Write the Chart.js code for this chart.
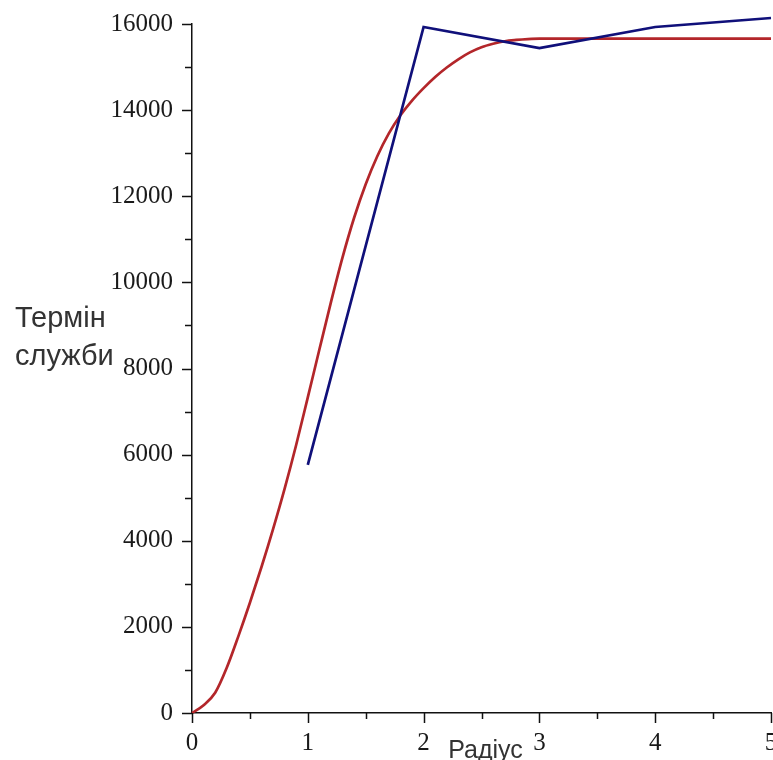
<!DOCTYPE html>
<html>
<head>
<meta charset="utf-8">
<script src="https://cdn.jsdelivr.net/npm/chart.js@4/dist/chart.umd.min.js"></script>
<style>
  html, body { margin: 0; padding: 0; background: #fff; }
  #wrap { width: 773px; height: 760px; position: relative; }
</style>
</head>
<body>
<div id="wrap"><canvas id="c"></canvas></div>
<script>
// Модельна крива (червона)
const modelX = [0, 0.1, 0.2, 0.3, 0.4, 0.5, 0.6, 0.7, 0.8, 0.9, 1.0, 1.1, 1.2, 1.3, 1.4, 1.5, 1.6, 1.7, 1.8, 1.9,
                2.0, 2.1, 2.2, 2.3, 2.4, 2.5, 2.6, 2.7, 2.8, 2.9, 3.0, 3.5, 4.0, 4.5, 5.0];
const modelY = [0, 180, 470, 1050, 1780, 2560, 3390, 4270, 5210, 6230, 7330, 8440, 9540, 10580, 11500, 12280, 12930, 13460, 13880, 14220,
                14510, 14770, 14990, 15180, 15340, 15460, 15540, 15600, 15630, 15650, 15660, 15660, 15660, 15660, 15660];

// Дослідні значення (синя ламана)
const measX = [1, 2, 3, 4, 5];
const measY = [5760, 15930, 15440, 15930, 16140];

// Осі
const xTicks = [0, 1, 2, 3, 4, 5];
const yTicks = [0, 2000, 4000, 6000, 8000, 10000, 12000, 14000, 16000];
const xTitle = 'Радіус';
const yTitle = ['Термін', 'служби'];

const toPoints = (xs, ys) => xs.map((x, i) => ({ x: x, y: ys[i] }));

// Короткі засічки осей (основні та проміжні) і підписи осей
const axisDecor = {
  id: 'axisDecor',
  afterDraw(chart) {
    const { ctx, chartArea: a, scales } = chart;
    const xs = scales.x, ys = scales.y;
    ctx.save();
    ctx.strokeStyle = '#111';
    ctx.lineWidth = 1.5;
    ctx.beginPath();
    for (let v = 0; v <= 5.0001; v += 0.5) {
      const px = Math.round(xs.getPixelForValue(v)) + 0.5;
      const len = xTicks.includes(Math.round(v * 10) / 10) ? 10 : 6;
      ctx.moveTo(px, a.bottom);
      ctx.lineTo(px, a.bottom + len);
    }
    for (let v = 0; v <= 16000; v += 1000) {
      const py = Math.round(ys.getPixelForValue(v)) + 0.5;
      const len = yTicks.includes(v) ? 10 : 7;
      ctx.moveTo(a.left, py);
      ctx.lineTo(a.left - len, py);
    }
    ctx.stroke();

    ctx.fillStyle = '#333';
    ctx.textBaseline = 'alphabetic';
    ctx.font = '25px "Liberation Sans", Arial, sans-serif';
    ctx.textAlign = 'center';
    ctx.fillText(xTitle, (a.left + a.right) / 2 + 4, 758);
    ctx.font = '29px "Liberation Sans", Arial, sans-serif';
    ctx.textAlign = 'left';
    ctx.fillText(yTitle[0], 15, 327);
    ctx.fillText(yTitle[1], 15, 365);
    ctx.restore();
  }
};

new Chart(document.getElementById('c'), {
  type: 'scatter',
  data: {
    datasets: [
      {
        label: 'model',
        data: toPoints(modelX, modelY),
        showLine: true,
        borderColor: '#b3262a',
        borderWidth: 2.7,
        pointRadius: 0,
        cubicInterpolationMode: 'monotone',
        clip: false,
        order: 1
      },
      {
        label: 'measured',
        data: toPoints(measX, measY),
        showLine: true,
        borderColor: '#10107a',
        borderWidth: 2.7,
        pointRadius: 0,
        tension: 0,
        clip: false,
        order: 0
      }
    ]
  },
  options: {
    responsive: true,
    maintainAspectRatio: false,
    animation: false,
    layout: { padding: { top: 24, right: 2, left: 0, bottom: 0 } },
    plugins: { legend: { display: false }, tooltip: { enabled: false } },
    scales: {
      x: {
        type: 'linear',
        min: 0, max: 5,
        grid: { display: false },
        border: { display: true, color: '#111', width: 1.5 },
        ticks: {
          stepSize: 1,
          padding: 7,
          color: '#1a1a1a',
          font: { family: '"Liberation Serif", "Times New Roman", serif', size: 25 },
          maxRotation: 0,
          autoSkip: false,
          callback: v => xTicks.includes(v) ? String(v) : ''
        },
        afterFit(s) { s.height = 47; s.paddingLeft = 0; s.paddingRight = 0; }
      },
      y: {
        type: 'linear',
        min: 0, max: 16000,
        grid: { display: false },
        border: { display: true, color: '#111', width: 1.5 },
        ticks: {
          stepSize: 2000,
          padding: 11,
          color: '#1a1a1a',
          font: { family: '"Liberation Serif", "Times New Roman", serif', size: 25 },
          autoSkip: false,
          callback: v => yTicks.includes(v) ? String(v) : ''
        },
        afterFit(s) { s.width = 192; s.paddingTop = 0; s.paddingBottom = 0; }
      }
    }
  },
  plugins: [axisDecor]
});
</script>
</body>
</html>
